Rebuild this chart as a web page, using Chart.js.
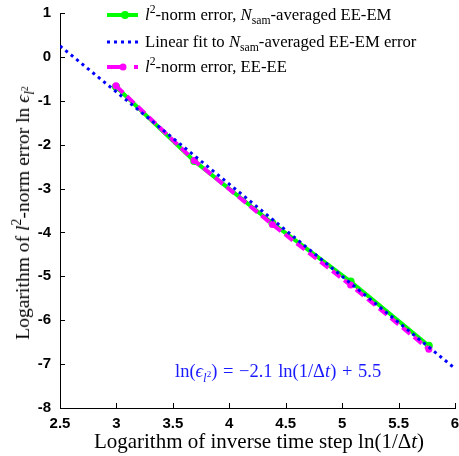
<!DOCTYPE html>
<html>
<head>
<meta charset="utf-8">
<script src="https://cdn.jsdelivr.net/npm/chart.js@4"></script>
<style>
    body { margin: 0; background: #fff; }
    #wrap { position: relative; width: 459px; height: 456px; }
    .txt { position: absolute; font-family: "Liberation Serif", "DejaVu Serif", serif; color: #000; white-space: nowrap; }
    .leg { font-size: 16.7px; left: 145px; }
    i { font-style: italic; }
    sub, sup { font-size: 70%; line-height: 0; }
</style>
</head>
<body>
<div id="wrap">
    <canvas id="chart" width="459" height="456"></canvas>
    <div class="txt leg" style="top: 5px;"><i>l</i><sup>2</sup>-norm error, <i>N</i><sub>sam</sub>-averaged EE-EM</div>
    <div class="txt leg" style="top: 32px;">Linear fit to <i>N</i><sub>sam</sub>-averaged EE-EM error</div>
    <div class="txt leg" style="top: 57px;"><i>l</i><sup>2</sup>-norm error, EE-EE</div>
    <div class="txt" id="ann" style="font-size: 18.5px; color: #1a1aff; left: 175px; top: 361px; word-spacing: 1px;">ln(<i>ϵ</i><sub><i>l</i><sup>2</sup></sub>) = −2.1 ln(1/Δ<i>t</i>) + 5.5</div>
    <div class="txt" style="font-size: 21px; left: 259px; top: 429px; transform: translateX(-50%);">Logarithm of inverse time step ln(1/Δ<i>t</i>)</div>
    <div class="txt" style="font-size: 19.6px; left: 23px; top: 213px; transform: translate(-50%, -50%) rotate(-90deg);">Logarithm of <i>l</i><sup>2</sup>-norm error ln <i>ϵ</i><sub><i>l</i><sup>2</sup></sub></div>
</div>
<script>
    // ln(1/dt) for dt = 1/20 ... 1/320
    const logInvDt = [2.996, 3.689, 4.382, 5.075, 5.768];
    const emError = [-0.68, -2.37, -3.79, -5.12, -6.58];
    const eeError = [-0.66, -2.36, -3.82, -5.20, -6.66];
    const fitX = [2.5, 6];
    const fitY = [0.25, -7.1];
    const xTicks = [2.5, 3, 3.5, 4, 4.5, 5, 5.5, 6];
    const yTicks = [-8, -7, -6, -5, -4, -3, -2, -1, 0, 1];

    const toPoints = (xs, ys) => xs.map((x, i) => ({ x: x, y: ys[i] }));

    // inward ticks + legend line samples
    const extras = {
        id: 'extras',
        afterDraw(chart) {
            const ctx = chart.ctx;
            const area = chart.chartArea;
            const xs = chart.scales.x;
            const ys = chart.scales.y;
            ctx.save();
            ctx.strokeStyle = '#000';
            ctx.lineWidth = 1;
            ctx.beginPath();
            xTicks.forEach(v => {
                const px = Math.round(xs.getPixelForValue(v)) + 0.5;
                ctx.moveTo(px, area.bottom);
                ctx.lineTo(px, area.bottom - 5);
            });
            yTicks.forEach(v => {
                const py = Math.round(ys.getPixelForValue(v)) + 0.5;
                ctx.moveTo(area.left, py);
                ctx.lineTo(area.left + 5, py);
            });
            ctx.stroke();

            // legend samples
            const x0 = 107, x1 = 138;
            ctx.lineWidth = 4;
            ctx.strokeStyle = '#00ff00';
            ctx.beginPath(); ctx.moveTo(x0, 15); ctx.lineTo(x1, 15); ctx.stroke();
            ctx.fillStyle = '#00ff00';
            ctx.beginPath(); ctx.arc(125, 15, 4, 0, Math.PI * 2); ctx.fill();

            ctx.lineWidth = 3;
            ctx.strokeStyle = '#0000ff';
            ctx.setLineDash([3, 4]);
            ctx.beginPath(); ctx.moveTo(x0, 42); ctx.lineTo(x1, 42); ctx.stroke();

            ctx.lineWidth = 4;
            ctx.strokeStyle = '#ff00ff';
            ctx.setLineDash([15, 12]);
            ctx.beginPath(); ctx.moveTo(x0, 67); ctx.lineTo(x1, 67); ctx.stroke();
            ctx.setLineDash([]);
            ctx.fillStyle = '#ff00ff';
            ctx.beginPath(); ctx.arc(123, 67, 3.5, 0, Math.PI * 2); ctx.fill();
            ctx.restore();
        }
    };

    new Chart(document.getElementById('chart').getContext('2d'), {
        type: 'scatter',
        data: {
            datasets: [
                {
                    label: 'EE-EM',
                    data: toPoints(logInvDt, emError),
                    showLine: true,
                    borderColor: '#00ff00',
                    backgroundColor: '#00ff00',
                    borderWidth: 4,
                    pointRadius: 4,
                    pointBorderWidth: 0,
                    order: 3
                },
                {
                    label: 'EE-EE',
                    data: toPoints(logInvDt, eeError),
                    showLine: true,
                    borderColor: '#ff00ff',
                    backgroundColor: '#ff00ff',
                    borderWidth: 4,
                    borderDash: [10, 5],
                    pointRadius: 3.5,
                    pointBorderWidth: 0,
                    order: 2
                },
                {
                    label: 'Linear fit',
                    data: toPoints(fitX, fitY),
                    showLine: true,
                    borderColor: '#0000ff',
                    borderWidth: 3,
                    borderDash: [3, 4],
                    pointRadius: 0,
                    order: 1
                }
            ]
        },
        options: {
            responsive: false,
            animation: false,
            layout: { padding: { top: 13, right: 2, left: 0, bottom: 0 } },
            plugins: { legend: { display: false }, tooltip: { enabled: false } },
            scales: {
                x: {
                    type: 'linear',
                    min: 2.5,
                    max: 6,
                    afterBuildTicks: s => { s.ticks = xTicks.map(v => ({ value: v })); },
                    afterFit: s => { s.height = 48; s.paddingLeft = 0; s.paddingRight = 0; },
                    grid: { display: false, drawTicks: false },
                    border: { display: true, color: '#000', width: 1 },
                    ticks: {
                        color: '#000',
                        padding: 7,
                        maxRotation: 0,
                        autoSkip: false,
                        callback: v => String(v),
                        font: { family: 'Liberation Sans', size: 15, weight: 'bold' }
                    }
                },
                y: {
                    type: 'linear',
                    min: -8,
                    max: 1,
                    afterBuildTicks: s => { s.ticks = yTicks.map(v => ({ value: v })); },
                    afterFit: s => { s.width = 60; s.paddingTop = 0; s.paddingBottom = 0; },
                    grid: { display: false, drawTicks: false },
                    border: { display: true, color: '#000', width: 1 },
                    ticks: {
                        color: '#000',
                        padding: 9,
                        autoSkip: false,
                        callback: v => String(v),
                        font: { family: 'Liberation Sans', size: 15, weight: 'bold' }
                    }
                }
            }
        },
        plugins: [extras]
    });
</script>
</body>
</html>
